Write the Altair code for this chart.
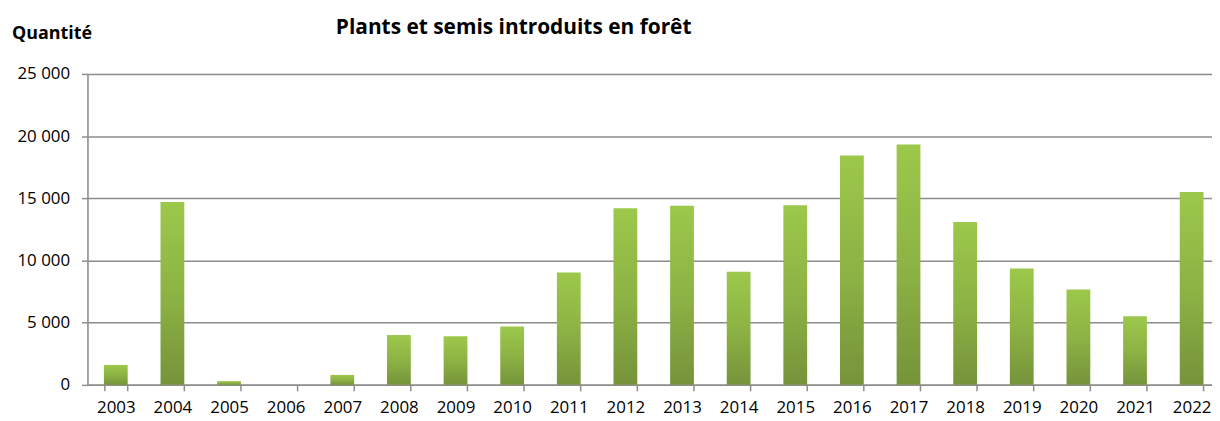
import altair as alt
import pandas as pd

years = [str(y) for y in range(2003, 2023)]
values = [1600, 14700, 300, 0, 800, 4000, 3900, 4700, 9030, 14200,
          14400, 9100, 14450, 18450, 19330, 13100, 9350, 7670, 5510, 15500]

title_text = "Plants et semis introduits en forêt"
ylabel_text = "Quantité"

df = pd.DataFrame({"annee": years, "quantite": values})
FONT = "Open Sans"

bars = alt.Chart(df).mark_bar(
    color=alt.Gradient(
        gradient="linear",
        stops=[alt.GradientStop(color="#9cc84b", offset=0),
               alt.GradientStop(color="#8db344", offset=0.5),
               alt.GradientStop(color="#76933a", offset=1)],
        x1=0, x2=0, y1=0, y2=1,
    )
).encode(
    x=alt.X("annee:N", title=None, sort=years,
            scale=alt.Scale(paddingInner=0.58, paddingOuter=0.29, range=[0, 1140]),
            axis=alt.Axis(labelAngle=0, labelFont=FONT, labelFontSize=17, labelColor="#000",
                          domainColor="#8c8c8c", domainWidth=1.5, tickColor="#8c8c8c",
                          tickWidth=1.5, tickSize=6, tickBand="extent", labelPadding=9)),
    y=alt.Y("quantite:Q", title=None,
            scale=alt.Scale(domain=[0, 25000], nice=False),
            axis=alt.Axis(values=[0, 5000, 10000, 15000, 20000, 25000],
                          labelExpr="replace(format(datum.value, ','), ',', ' ')",
                          labelFont=FONT, labelFontSize=17, labelColor="#000",
                          domainColor="#8c8c8c", domainWidth=1.5, tickColor="#8c8c8c",
                          tickWidth=1.5, tickSize=6, labelPadding=12,
                          gridColor="#8c8c8c", gridWidth=1.5)),
)

title = alt.Chart(pd.DataFrame({"t": [title_text]})).mark_text(
    font=FONT, fontSize=21, fontWeight="bold", color="#000", align="center", baseline="middle"
).encode(x=alt.value(429), y=alt.value(-46), text="t:N")

ylab = alt.Chart(pd.DataFrame({"t": [ylabel_text]})).mark_text(
    font=FONT, fontSize=18, fontWeight="bold", color="#000", align="left", baseline="middle"
).encode(x=alt.value(-76), y=alt.value(-40), text="t:N")

chart = alt.layer(bars, title, ylab).properties(
    width=1132, height=313,
    autosize=alt.AutoSizeParams(type="none"),
    padding={"left": 80, "top": 65, "right": 0, "bottom": 35},
).configure_view(stroke=None).configure(background="white")

chart.save("out.html", embed_options={"renderer": "svg", "actions": False})
